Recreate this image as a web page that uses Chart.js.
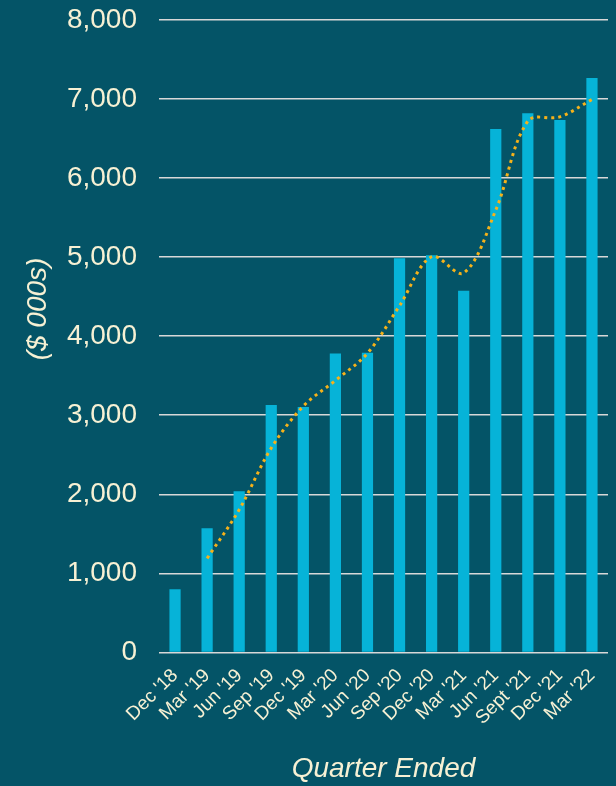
<!DOCTYPE html>
<html>
<head>
<meta charset="utf-8">
<script src="https://cdn.jsdelivr.net/npm/chart.js@4.4.0/dist/chart.umd.min.js"></script>
<style>
  html, body { margin: 0; padding: 0; background: #045467; }
  #wrap { width: 616px; height: 786px; }
</style>
</head>
<body>
<div id="wrap"><canvas id="chart" width="616" height="786"></canvas></div>
<script>
// quarters on the x axis
var quarters = ["Dec '18", "Mar '19", "Jun '19", "Sep '19", "Dec '19", "Mar '20", "Jun '20",
                "Sep '20", "Dec '20", "Mar '21", "Jun '21", "Sept '21", "Dec '21", "Mar '22"];
// bar values ($ 000s)
var quarterly = [800, 1570, 2040, 3130, 3105, 3780, 3790, 4985, 5025, 4575, 6620, 6820, 6735, 7265];
// dotted trend line (2 quarter moving average)
var trend = [null, 1190, 1805, 2585, 3115, 3440, 3785, 4385, 5005, 4800, 5595, 6720, 6775, 6995];
var yTicks = { min: 0, max: 8000, step: 1000 };
var yTitle = '($ 000s)';

var cream = '#f7f1d4';

// y title sits a bit above the middle of the plot, so draw it by hand
var yTitlePlugin = {
    id: 'yTitle',
    afterDraw: function (c) {
        var g = c.ctx;
        g.save();
        g.translate(38, 309);
        g.rotate(-Math.PI / 2);
        g.font = 'italic 28px "Liberation Sans", Arial';
        g.fillStyle = cream;
        g.textAlign = 'center';
        g.textBaseline = 'middle';
        g.fillText(yTitle, 0, 0);
        g.restore();
    }
};

var ctx = document.getElementById('chart').getContext('2d');
var chart = new Chart(ctx, {
    type: 'bar',
    data: {
        labels: quarters,
        datasets: [
            {
                type: 'line',
                data: trend,
                borderColor: '#f6b21a',
                borderWidth: 3,
                borderDash: [3, 4],
                pointRadius: 0,
                tension: 0.35,
                fill: false,
                order: 0
            },
            {
                data: quarterly,
                backgroundColor: '#06b3d8',
                barPercentage: 0.7,
                categoryPercentage: 0.5,
                order: 1
            }
        ]
    },
    plugins: [yTitlePlugin],
    options: {
        responsive: false,
        animation: false,
        layout: { padding: { top: 0, right: 8, left: 0, bottom: 0 } },
        plugins: { legend: { display: false }, tooltip: { enabled: false } },
        scales: {
            x: {
                grid: { display: false },
                border: { display: false },
                ticks: {
                    color: cream,
                    font: { family: 'Liberation Sans, Arial', size: 19 },
                    minRotation: 45,
                    maxRotation: 45,
                    padding: 4,
                    autoSkip: false
                },
                title: {
                    display: true,
                    text: 'Quarter Ended',
                    color: cream,
                    font: { family: 'Liberation Sans, Arial', size: 28, style: 'italic' },
                    padding: { top: 19, bottom: 0 }
                },
                afterFit: function (s) { s.paddingLeft = 0; s.paddingRight = 0; }
            },
            y: {
                min: yTicks.min,
                max: yTicks.max,
                grid: { color: '#d8d8d8', lineWidth: 1.5, drawTicks: false },
                border: { display: false },
                ticks: {
                    stepSize: yTicks.step,
                    color: cream,
                    padding: 22,
                    font: { family: 'Liberation Sans, Arial', size: 28 },
                    callback: function (v) { return v.toLocaleString('en-US'); }
                },
                afterFit: function (s) { s.width = 159; s.paddingTop = 20; s.paddingBottom = 0; }
            }
        }
    }
});
</script>
</body>
</html>
